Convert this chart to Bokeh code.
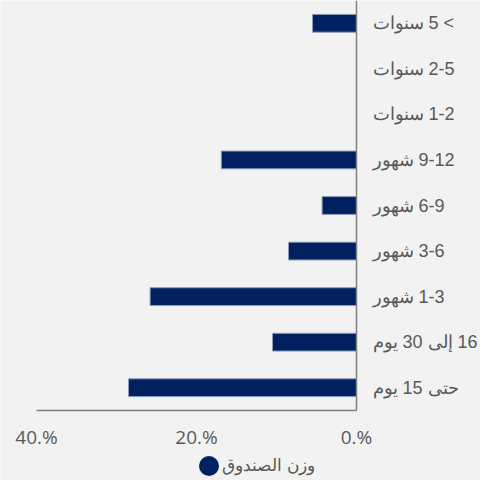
from bokeh.plotting import figure
from bokeh.models import Range1d, FixedTicker, Legend, LegendItem, ColumnDataSource
from bokeh.embed import file_html
from bokeh.resources import INLINE

# Data (bottom to top)
categories = ["حتى 15 يوم", "16 إلى 30 يوم", "1-3 شهور", "3-6 شهور", "6-9 شهور",
              "9-12 شهور", "1-2 سنوات", "2-5 سنوات", ">  5 سنوات"]
values = [28.5, 10.5, 25.8, 8.5, 4.3, 16.9, 0.0, 0.0, 5.5]
tick_values = [0, 20, 40]
tick_labels = ["0.%", "20.%", "40.%"]
series_name = "وزن الصندوق"
x_max = 40

RLE, PDF = "\u202B", "\u202C"
n = len(categories)
ypos = [i + 0.5 for i in range(n)]

# layout anchors (pixels)
W, H = 480, 480
plot_bottom_px = 410   # category area ends here
left_px, zero_px = 36, 356  # x = x_max and x = 0
upp = x_max / (zero_px - left_px)
x_start = x_max + left_px * upp
x_end = 0 - (W - zero_px) * upp
y_start = n - n * H / plot_bottom_px

src = ColumnDataSource(data=dict(y=ypos, val=values))

p = figure(width=W, height=H,
           y_range=Range1d(y_start, n), x_range=Range1d(x_start, x_end),
           y_axis_location="right", output_backend="svg", toolbar_location=None,
           min_border=0, min_border_left=0, min_border_right=0,
           min_border_top=0, min_border_bottom=0,
           background_fill_color="#f2f2f2", border_fill_color="#f2f2f2",
           outline_line_color=None)

# legend swatch: a round glyph on the bar ends, vanishingly small on the chart itself
legend_r = p.ellipse(x="val", y="y", width=0.001, height=0.001,
                     width_units="screen", height_units="screen", source=src,
                     fill_color="#002060", line_color=None)

p.hbar(y="y", left=0, right="val", height=0.39, source=src,
       fill_color="#002060", line_color="#8e9cb6", line_width=1)

p.xgrid.visible = False
p.ygrid.visible = False

xa = p.xaxis[0]
xa.fixed_location = 0
xa.bounds = (0, x_max)
xa.ticker = FixedTicker(ticks=tick_values)
xa.major_label_overrides = {v: l for v, l in zip(tick_values, tick_labels)}
xa.major_tick_line_color = None
xa.minor_tick_line_color = None
xa.axis_line_color = "#808080"
xa.axis_line_width = 1.5
xa.major_label_text_font = "Open Sans"
xa.major_label_text_font_size = "19px"
xa.major_label_text_color = "#595959"
xa.major_label_standoff = 7

ya = p.yaxis[0]
ya.fixed_location = 0
ya.bounds = (0, n)
ya.ticker = FixedTicker(ticks=ypos)
ya.major_label_overrides = {y: RLE + c + PDF for y, c in zip(ypos, categories)}
ya.major_tick_line_color = None
ya.minor_tick_line_color = None
ya.axis_line_color = "#808080"
ya.axis_line_width = 1.5
ya.major_label_text_font = "Liberation Sans"
ya.major_label_text_font_size = "18px"
ya.major_label_text_color = "#595959"
ya.major_label_standoff = 10

legend = Legend(items=[LegendItem(label=series_name, renderers=[legend_r])],
                location=(196, 2), glyph_width=25, glyph_height=25,
                label_standoff=1, padding=0, margin=0, spacing=0,
                border_line_color=None, background_fill_alpha=0,
                label_text_font="Liberation Sans", label_text_font_size="17px",
                label_text_color="#595959")
p.add_layout(legend)

open("out.html", "w").write(file_html(p, INLINE))
